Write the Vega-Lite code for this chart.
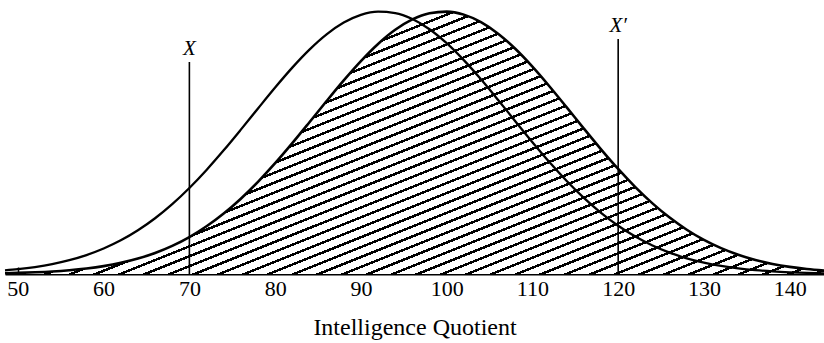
{
  "$schema": "https://vega.github.io/schema/vega-lite/v6.json",
  "autosize": {"type": "none"},
  "padding": {"left": 5, "top": 0, "right": 0, "bottom": 69},
  "width": 819,
  "height": 274,
  "background": "white",
  "config": {"view": {"stroke": null}},
  "datasets": {
    "curves": [
      {"iq": 48.5, "a": 0.0138, "b": 0.0030},
      {"iq": 50, "a": 0.0184, "b": 0.0041},
      {"iq": 52, "a": 0.0266, "b": 0.0064},
      {"iq": 54, "a": 0.0377, "b": 0.0096},
      {"iq": 56, "a": 0.0527, "b": 0.0144},
      {"iq": 58, "a": 0.0721, "b": 0.0210},
      {"iq": 60, "a": 0.0970, "b": 0.0301},
      {"iq": 62, "a": 0.1282, "b": 0.0425},
      {"iq": 64, "a": 0.1666, "b": 0.0589},
      {"iq": 66, "a": 0.2125, "b": 0.0802},
      {"iq": 68, "a": 0.2663, "b": 0.1072},
      {"iq": 70, "a": 0.3279, "b": 0.1408},
      {"iq": 72, "a": 0.3966, "b": 0.1818},
      {"iq": 74, "a": 0.4713, "b": 0.2304},
      {"iq": 76, "a": 0.5501, "b": 0.2870},
      {"iq": 78, "a": 0.6308, "b": 0.3512},
      {"iq": 80, "a": 0.7106, "b": 0.4221},
      {"iq": 82, "a": 0.7863, "b": 0.4985},
      {"iq": 84, "a": 0.8549, "b": 0.5782},
      {"iq": 86, "a": 0.9130, "b": 0.6590},
      {"iq": 88, "a": 0.9579, "b": 0.7377},
      {"iq": 90, "a": 0.9873, "b": 0.8113},
      {"iq": 92, "a": 0.9996, "b": 0.8766},
      {"iq": 94, "a": 0.9943, "b": 0.9304},
      {"iq": 96, "a": 0.9716, "b": 0.9700},
      {"iq": 98, "a": 0.9327, "b": 0.9936},
      {"iq": 100, "a": 0.8795, "b": 0.9998},
      {"iq": 102, "a": 0.8148, "b": 0.9883},
      {"iq": 104, "a": 0.7416, "b": 0.9597},
      {"iq": 106, "a": 0.6630, "b": 0.9156},
      {"iq": 108, "a": 0.5823, "b": 0.8581},
      {"iq": 110, "a": 0.5024, "b": 0.7900},
      {"iq": 112, "a": 0.4258, "b": 0.7145},
      {"iq": 114, "a": 0.3546, "b": 0.6348},
      {"iq": 116, "a": 0.2900, "b": 0.5541},
      {"iq": 118, "a": 0.2331, "b": 0.4751},
      {"iq": 120, "a": 0.1840, "b": 0.4002},
      {"iq": 122, "a": 0.1427, "b": 0.3312},
      {"iq": 124, "a": 0.1087, "b": 0.2692},
      {"iq": 126, "a": 0.0814, "b": 0.2150},
      {"iq": 128, "a": 0.0598, "b": 0.1687},
      {"iq": 130, "a": 0.0432, "b": 0.1300},
      {"iq": 132, "a": 0.0307, "b": 0.0984},
      {"iq": 134, "a": 0.0214, "b": 0.0732},
      {"iq": 136, "a": 0.0146, "b": 0.0535},
      {"iq": 138, "a": 0.0098, "b": 0.0384},
      {"iq": 140, "a": 0.0065, "b": 0.0271},
      {"iq": 142, "a": 0.0042, "b": 0.0188},
      {"iq": 144, "a": 0.0027, "b": 0.0128}
    ],
    "markers": [
      {"iq": 70, "h": 0.8078, "label": "X"},
      {"iq": 120, "h": 0.8954, "label": "X′"}
    ]
  },
  "encoding": {
    "x": {
      "field": "iq",
      "type": "quantitative",
      "scale": {"domain": [48.5, 144], "nice": false, "zero": false},
      "axis": {
        "values": [50, 60, 70, 80, 90, 100, 110, 120, 130, 140],
        "title": "Intelligence Quotient",
        "grid": false,
        "domainColor": "black",
        "domainWidth": 2,
        "tickColor": "black",
        "tickSize": -7,
        "tickWidth": 1.5,
        "labelFont": "Liberation Serif",
        "labelFontSize": 22,
        "labelColor": "black",
        "labelPadding": 11,
        "labelFlush": false,
        "labelOverlap": false,
        "titleFont": "Liberation Serif",
        "titleFontSize": 24,
        "titleFontWeight": "normal",
        "titleColor": "black",
        "titlePadding": 16
      }
    }
  },
  "layer": [
    {
      "data": {"name": "curves"},
      "mark": {
        "type": "area",
        "interpolate": "monotone",
        "fill": {
          "gradient": "linear",
          "x1": 0, "y1": 0, "x2": 1.8425, "y2": 1.4761,
          "stops": [
            {"offset":0,"color":"white"},{"offset":0,"color":"black"},{"offset":0.0027,"color":"black"},{"offset":0.0027,"color":"white"},
            {"offset":0.01,"color":"white"},{"offset":0.01,"color":"black"},{"offset":0.0127,"color":"black"},{"offset":0.0127,"color":"white"},
            {"offset":0.02,"color":"white"},{"offset":0.02,"color":"black"},{"offset":0.0227,"color":"black"},{"offset":0.0227,"color":"white"},
            {"offset":0.03,"color":"white"},{"offset":0.03,"color":"black"},{"offset":0.0327,"color":"black"},{"offset":0.0327,"color":"white"},
            {"offset":0.04,"color":"white"},{"offset":0.04,"color":"black"},{"offset":0.0427,"color":"black"},{"offset":0.0427,"color":"white"},
            {"offset":0.05,"color":"white"},{"offset":0.05,"color":"black"},{"offset":0.0527,"color":"black"},{"offset":0.0527,"color":"white"},
            {"offset":0.06,"color":"white"},{"offset":0.06,"color":"black"},{"offset":0.0627,"color":"black"},{"offset":0.0627,"color":"white"},
            {"offset":0.07,"color":"white"},{"offset":0.07,"color":"black"},{"offset":0.0727,"color":"black"},{"offset":0.0727,"color":"white"},
            {"offset":0.08,"color":"white"},{"offset":0.08,"color":"black"},{"offset":0.0827,"color":"black"},{"offset":0.0827,"color":"white"},
            {"offset":0.09,"color":"white"},{"offset":0.09,"color":"black"},{"offset":0.0927,"color":"black"},{"offset":0.0927,"color":"white"},
            {"offset":0.10,"color":"white"},{"offset":0.10,"color":"black"},{"offset":0.1027,"color":"black"},{"offset":0.1027,"color":"white"},
            {"offset":0.11,"color":"white"},{"offset":0.11,"color":"black"},{"offset":0.1127,"color":"black"},{"offset":0.1127,"color":"white"},
            {"offset":0.12,"color":"white"},{"offset":0.12,"color":"black"},{"offset":0.1227,"color":"black"},{"offset":0.1227,"color":"white"},
            {"offset":0.13,"color":"white"},{"offset":0.13,"color":"black"},{"offset":0.1327,"color":"black"},{"offset":0.1327,"color":"white"},
            {"offset":0.14,"color":"white"},{"offset":0.14,"color":"black"},{"offset":0.1427,"color":"black"},{"offset":0.1427,"color":"white"},
            {"offset":0.15,"color":"white"},{"offset":0.15,"color":"black"},{"offset":0.1527,"color":"black"},{"offset":0.1527,"color":"white"},
            {"offset":0.16,"color":"white"},{"offset":0.16,"color":"black"},{"offset":0.1627,"color":"black"},{"offset":0.1627,"color":"white"},
            {"offset":0.17,"color":"white"},{"offset":0.17,"color":"black"},{"offset":0.1727,"color":"black"},{"offset":0.1727,"color":"white"},
            {"offset":0.18,"color":"white"},{"offset":0.18,"color":"black"},{"offset":0.1827,"color":"black"},{"offset":0.1827,"color":"white"},
            {"offset":0.19,"color":"white"},{"offset":0.19,"color":"black"},{"offset":0.1927,"color":"black"},{"offset":0.1927,"color":"white"},
            {"offset":0.20,"color":"white"},{"offset":0.20,"color":"black"},{"offset":0.2027,"color":"black"},{"offset":0.2027,"color":"white"},
            {"offset":0.21,"color":"white"},{"offset":0.21,"color":"black"},{"offset":0.2127,"color":"black"},{"offset":0.2127,"color":"white"},
            {"offset":0.22,"color":"white"},{"offset":0.22,"color":"black"},{"offset":0.2227,"color":"black"},{"offset":0.2227,"color":"white"},
            {"offset":0.23,"color":"white"},{"offset":0.23,"color":"black"},{"offset":0.2327,"color":"black"},{"offset":0.2327,"color":"white"},
            {"offset":0.24,"color":"white"},{"offset":0.24,"color":"black"},{"offset":0.2427,"color":"black"},{"offset":0.2427,"color":"white"},
            {"offset":0.25,"color":"white"},{"offset":0.25,"color":"black"},{"offset":0.2527,"color":"black"},{"offset":0.2527,"color":"white"},
            {"offset":0.26,"color":"white"},{"offset":0.26,"color":"black"},{"offset":0.2627,"color":"black"},{"offset":0.2627,"color":"white"},
            {"offset":0.27,"color":"white"},{"offset":0.27,"color":"black"},{"offset":0.2727,"color":"black"},{"offset":0.2727,"color":"white"},
            {"offset":0.28,"color":"white"},{"offset":0.28,"color":"black"},{"offset":0.2827,"color":"black"},{"offset":0.2827,"color":"white"},
            {"offset":0.29,"color":"white"},{"offset":0.29,"color":"black"},{"offset":0.2927,"color":"black"},{"offset":0.2927,"color":"white"},
            {"offset":0.30,"color":"white"},{"offset":0.30,"color":"black"},{"offset":0.3027,"color":"black"},{"offset":0.3027,"color":"white"},
            {"offset":0.31,"color":"white"},{"offset":0.31,"color":"black"},{"offset":0.3127,"color":"black"},{"offset":0.3127,"color":"white"},
            {"offset":0.32,"color":"white"},{"offset":0.32,"color":"black"},{"offset":0.3227,"color":"black"},{"offset":0.3227,"color":"white"},
            {"offset":0.33,"color":"white"},{"offset":0.33,"color":"black"},{"offset":0.3327,"color":"black"},{"offset":0.3327,"color":"white"},
            {"offset":0.34,"color":"white"},{"offset":0.34,"color":"black"},{"offset":0.3427,"color":"black"},{"offset":0.3427,"color":"white"},
            {"offset":0.35,"color":"white"},{"offset":0.35,"color":"black"},{"offset":0.3527,"color":"black"},{"offset":0.3527,"color":"white"},
            {"offset":0.36,"color":"white"},{"offset":0.36,"color":"black"},{"offset":0.3627,"color":"black"},{"offset":0.3627,"color":"white"},
            {"offset":0.37,"color":"white"},{"offset":0.37,"color":"black"},{"offset":0.3727,"color":"black"},{"offset":0.3727,"color":"white"},
            {"offset":0.38,"color":"white"},{"offset":0.38,"color":"black"},{"offset":0.3827,"color":"black"},{"offset":0.3827,"color":"white"},
            {"offset":0.39,"color":"white"},{"offset":0.39,"color":"black"},{"offset":0.3927,"color":"black"},{"offset":0.3927,"color":"white"},
            {"offset":0.40,"color":"white"},{"offset":0.40,"color":"black"},{"offset":0.4027,"color":"black"},{"offset":0.4027,"color":"white"},
            {"offset":0.41,"color":"white"},{"offset":0.41,"color":"black"},{"offset":0.4127,"color":"black"},{"offset":0.4127,"color":"white"},
            {"offset":0.42,"color":"white"},{"offset":0.42,"color":"black"},{"offset":0.4227,"color":"black"},{"offset":0.4227,"color":"white"},
            {"offset":0.43,"color":"white"},{"offset":0.43,"color":"black"},{"offset":0.4327,"color":"black"},{"offset":0.4327,"color":"white"},
            {"offset":0.44,"color":"white"},{"offset":0.44,"color":"black"},{"offset":0.4427,"color":"black"},{"offset":0.4427,"color":"white"},
            {"offset":0.45,"color":"white"},{"offset":0.45,"color":"black"},{"offset":0.4527,"color":"black"},{"offset":0.4527,"color":"white"},
            {"offset":0.46,"color":"white"},{"offset":0.46,"color":"black"},{"offset":0.4627,"color":"black"},{"offset":0.4627,"color":"white"},
            {"offset":0.47,"color":"white"},{"offset":0.47,"color":"black"},{"offset":0.4727,"color":"black"},{"offset":0.4727,"color":"white"},
            {"offset":0.48,"color":"white"},{"offset":0.48,"color":"black"},{"offset":0.4827,"color":"black"},{"offset":0.4827,"color":"white"},
            {"offset":0.49,"color":"white"},{"offset":0.49,"color":"black"},{"offset":0.4927,"color":"black"},{"offset":0.4927,"color":"white"},
            {"offset":0.50,"color":"white"},{"offset":0.50,"color":"black"},{"offset":0.5027,"color":"black"},{"offset":0.5027,"color":"white"},
            {"offset":0.51,"color":"white"},{"offset":0.51,"color":"black"},{"offset":0.5127,"color":"black"},{"offset":0.5127,"color":"white"},
            {"offset":0.52,"color":"white"},{"offset":0.52,"color":"black"},{"offset":0.5227,"color":"black"},{"offset":0.5227,"color":"white"},
            {"offset":0.53,"color":"white"},{"offset":0.53,"color":"black"},{"offset":0.5327,"color":"black"},{"offset":0.5327,"color":"white"},
            {"offset":0.54,"color":"white"},{"offset":0.54,"color":"black"},{"offset":0.5427,"color":"black"},{"offset":0.5427,"color":"white"},
            {"offset":0.55,"color":"white"},{"offset":0.55,"color":"black"},{"offset":0.5527,"color":"black"},{"offset":0.5527,"color":"white"},
            {"offset":0.56,"color":"white"},{"offset":0.56,"color":"black"},{"offset":0.5627,"color":"black"},{"offset":0.5627,"color":"white"},
            {"offset":0.57,"color":"white"},{"offset":0.57,"color":"black"},{"offset":0.5727,"color":"black"},{"offset":0.5727,"color":"white"},
            {"offset":0.58,"color":"white"},{"offset":0.58,"color":"black"},{"offset":0.5827,"color":"black"},{"offset":0.5827,"color":"white"},
            {"offset":0.59,"color":"white"},{"offset":0.59,"color":"black"},{"offset":0.5927,"color":"black"},{"offset":0.5927,"color":"white"},
            {"offset":0.60,"color":"white"},{"offset":0.60,"color":"black"},{"offset":0.6027,"color":"black"},{"offset":0.6027,"color":"white"},
            {"offset":1,"color":"white"}
          ]
        }
      },
      "encoding": {
        "y": {"field": "b", "type": "quantitative", "scale": {"domain": [0, 1.044], "nice": false}, "axis": null}
      }
    },
    {
      "data": {"name": "curves"},
      "mark": {"type": "line", "interpolate": "monotone", "color": "black", "strokeWidth": 2.6},
      "encoding": {
        "y": {"field": "b", "type": "quantitative", "scale": {"domain": [0, 1.044], "nice": false}, "axis": null}
      }
    },
    {
      "data": {"name": "curves"},
      "mark": {"type": "line", "interpolate": "monotone", "color": "black", "strokeWidth": 2.3},
      "encoding": {
        "y": {"field": "a", "type": "quantitative", "scale": {"domain": [0, 1.044], "nice": false}, "axis": null}
      }
    },
    {
      "data": {"name": "markers"},
      "mark": {"type": "rule", "color": "black", "strokeWidth": 1.6},
      "encoding": {
        "y": {"field": "h", "type": "quantitative", "scale": {"domain": [0, 1.044], "nice": false}, "axis": null},
        "y2": {"datum": 0}
      }
    },
    {
      "data": {"name": "markers"},
      "mark": {"type": "text", "font": "Liberation Serif", "fontStyle": "italic", "fontSize": 21, "dy": -7, "baseline": "alphabetic", "align": "center", "color": "black"},
      "encoding": {
        "y": {"field": "h", "type": "quantitative", "scale": {"domain": [0, 1.044], "nice": false}, "axis": null},
        "text": {"field": "label", "type": "nominal"}
      }
    }
  ]
}
